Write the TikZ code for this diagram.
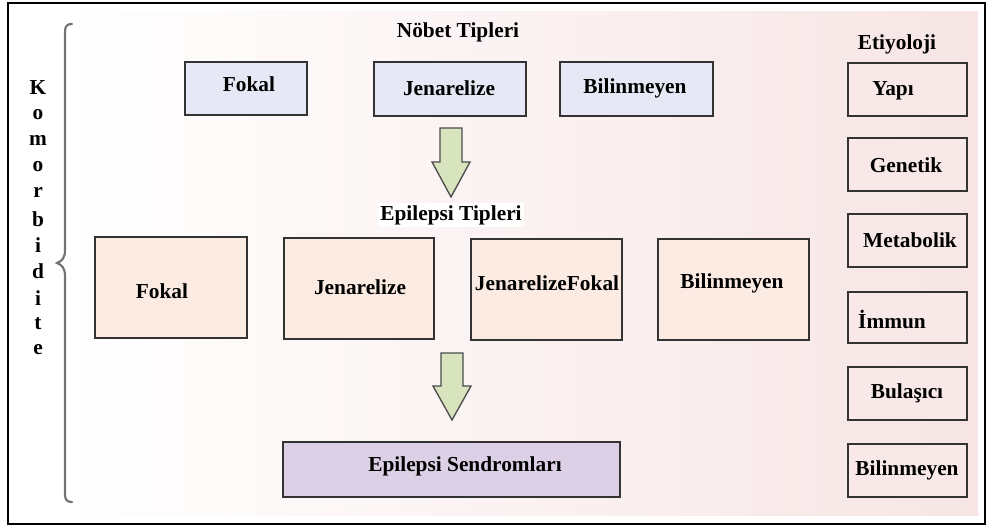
\documentclass[tikz,border=0pt]{standalone}
\usepackage{fontspec}
\setmainfont{Liberation Serif}
\usetikzlibrary{fit}
\definecolor{pinkbg}{HTML}{F7E5E5}
\definecolor{topfill}{HTML}{E6E9F5}
\definecolor{midfill}{HTML}{FCEBE3}
\definecolor{synfill}{HTML}{DCD0E6}
\definecolor{arrfill}{HTML}{D7E4BD}
\definecolor{rfill}{HTML}{F8E8E8}
\begin{document}
\begin{tikzpicture}[x=0.75pt,y=-0.75pt,
  every node/.style={font=\bfseries\fontsize{16}{19}\selectfont,text=black},
  box/.style={draw=black!80,line width=1.3pt,inner sep=0pt},
  topbox/.style={box,fill=topfill},
  midbox/.style={box,fill=midfill},
  synbox/.style={box,fill=synfill},
  rbox/.style={box,fill=rfill},
  lbl/.style={inner sep=1pt},
  blockarrow/.style={draw=black!70,line width=1pt,fill=arrfill,line join=miter}]
\useasboundingbox (0,0) rectangle (987,527);
\fill[white] (0,0) rectangle (987,527);
\shade[left color=white,right color=pinkbg] (60,12) rectangle (978,515);
\draw[line width=1pt] (8,3) rectangle (985,524);

% brace
\draw[black!55,line width=1.6pt,line cap=round]
  (72,24) .. controls (67,24) and (65,26) .. (65,32) -- (65,250)
  .. controls (65,258) and (62,261) .. (57,263)
  .. controls (62,265) and (65,268) .. (65,276) -- (65,494)
  .. controls (65,500) and (67,502) .. (72,502);

% Komorbidite
\foreach \ch [count=\i] in {K,o,m,o,r,b,i,d,i,t,e}
  \node[lbl] (k\i) at (38,{88+(\i-1)*26.2}) {\ch};

% titles
\node[lbl] (t1) at (458,32) {Nöbet Tipleri};
\node[lbl,fill=white,inner sep=2pt] (t2) at (451,215) {Epilepsi Tipleri};
\node[lbl] (t3) at (897,44) {Etiyoloji};

% top row
\node[topbox,fit={(185,62) (307,115)}] (a1) {};
\node[lbl] (a1t) at (249,84) {Fokal};
\node[topbox,fit={(374,62) (526,116)}] (a2) {};
\node[lbl] (a2t) at (449,88) {Jenarelize};
\node[topbox,fit={(560,62) (713,116)}] (a3) {};
\node[lbl] (a3t) at (635,88) {Bilinmeyen};

% arrow 1
\draw[blockarrow] (440,128) -- (462,128) -- (462,162) -- (470,162) -- (451,197)
  -- (432,162) -- (440,162) -- cycle;

% middle row
\node[midbox,fit={(95,237) (247,338)}] (b1) {};
\node[lbl] (b1t) at (162,291) {Fokal};
\node[midbox,fit={(284,238) (434,339)}] (b2) {};
\node[lbl] (b2t) at (360,287) {Jenarelize};
\node[midbox,fit={(471,239) (622,340)}] (b3) {};
\node[lbl] (b3t) at (547,283) {JenarelizeFokal};
\node[midbox,fit={(658,239) (809,340)}] (b4) {};
\node[lbl] (b4t) at (732,283) {Bilinmeyen};

% arrow 2
\draw[blockarrow] (441,353) -- (463,353) -- (463,386) -- (471,386) -- (452,420)
  -- (433,386) -- (441,386) -- cycle;

% syndrome box
\node[synbox,fit={(283,442) (620,497)}] (c1) {};
\node[lbl] (c1t) at (465,466) {Epilepsi Sendromları};

% right column
\node[rbox,fit={(848,63) (967,116)}] (r1) {};
\node[lbl] (r1t) at (893,91) {Yapı};
\node[rbox,fit={(848,138) (967,191)}] (r2) {};
\node[lbl] (r2t) at (906,165) {Genetik};
\node[rbox,fit={(848,214) (967,267)}] (r3) {};
\node[lbl] (r3t) at (910,240) {Metabolik};
\node[rbox,fit={(848,292) (967,343)}] (r4) {};
\node[lbl] (r4t) at (892,319) {İmmun};
\node[rbox,fit={(848,367) (967,420)}] (r5) {};
\node[lbl] (r5t) at (907,393) {Bulaşıcı};
\node[rbox,fit={(848,444) (967,497)}] (r6) {};
\node[lbl] (r6t) at (907,470) {Bilinmeyen};
\end{tikzpicture}
\end{document}
